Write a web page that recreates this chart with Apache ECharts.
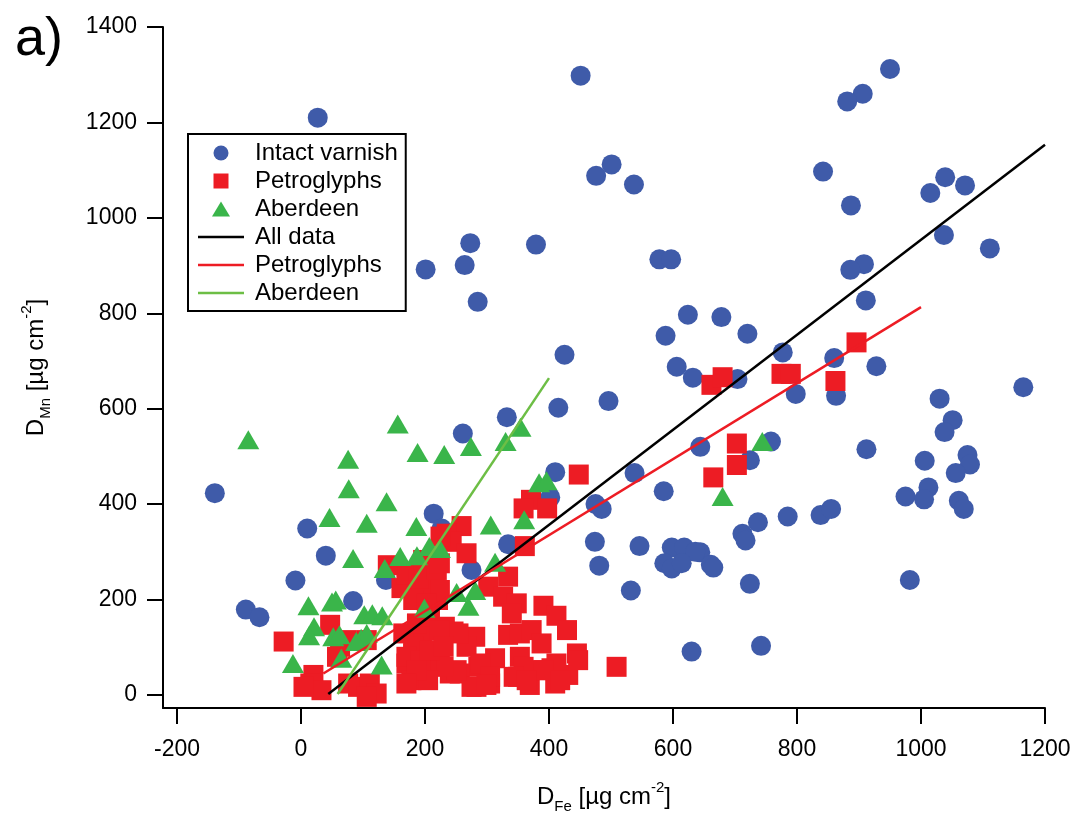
<!DOCTYPE html>
<html>
<head>
<meta charset="utf-8">
<script src="https://cdn.jsdelivr.net/npm/echarts@6/dist/echarts.min.js"></script>
<style>
  html, body { margin: 0; padding: 0; background: #fff; }
  #chart { width: 1087px; height: 817px; }
</style>
</head>
<body>
<div id="chart"></div>
<script>
// Intact varnish (blue circles)
const varnishFe = [451, 950, 906, 881, 501, 476, 537, 842, 1039, 1015, 1071, 887, 1037, 1111, 578, 597, 908, 886, 911, 624,
  678, 273, 379, 201, 264, 285, 588, 606, 632, 425, 415, 496, 332, 720, 777, 704, 860, 798, 863, 644,
  758, 724, 538, 585, 928, 1165, 1030, 1051, 1038, 912, 1006, 1075, 1079, 1056, 975, 1012, 1005, 1061, 1069, 785,
  838, 855, 737, 712, 717, 644, 661, 665, 724, 982, 261, 410, 402, 475, 485, 214, 227, 474, 546, 334,
  598, 618, 636, 586, 598, 614, 481, 275, 532, 630, 742, 27, -139, 10, 40, -9, -89, -67, 84, 137];
const varnishMn = [1298, 1312, 1260, 1244, 1112, 1088, 1070, 1097, 1085, 1052, 1068, 1026, 964, 936, 913, 913, 903, 891, 827, 797,
  792, 947, 944, 892, 901, 824, 753, 688, 665, 713, 602, 616, 582, 757, 718, 662, 706, 631, 627, 520,
  531, 492, 465, 427, 689, 645, 621, 576, 551, 515, 491, 503, 483, 465, 416, 435, 410, 407, 390, 374,
  377, 390, 362, 338, 324, 299, 273, 267, 233, 241, 548, 467, 414, 400, 390, 380, 349, 321, 312, 316,
  309, 309, 300, 276, 265, 276, 271, 262, 219, 91, 103, 1210, 423, 349, 292, 240, 179, 163, 197, 241];

// Petroglyphs (red squares)
const petroFe = [662, 680, 775, 790, 862, 896, 703, 703, 665, 448, 371, 359, 397, 361, 259, 235, 243, 267, 213, 216,
  224, 221, 192, 334, 302, 326, 348, 340, 391, 412, 429, 334, 353, 372, 388, 445, 509, 281, 246, 232,
  313, 286, 256, 283, 305, 353, 350, 369, 383, 404, 410, 431, 447, 224, 240, 267, 254, 213, 195, 412,
  391, 418, 359, 343, 364, 289, 305, 275, 299, 251, 230, 203, 181, 170, 178, 205, -28, 47, 74, 63,
  106, 58, 20, 15, 33, 4, 76, 92, 111, 122, 106, 162, 170, 189, 197, 219, 181, 203, 187, 208,
  165, 181, 170, 192, 208, 187, 170, 224, 230, 224, 225, 140];
const petroMn = [650, 666, 673, 673, 658, 739, 527, 482, 456, 462, 409, 391, 391, 312, 354, 338, 321, 297, 283, 258,
  220, 199, 231, 248, 227, 206, 192, 171, 187, 166, 136, 126, 129, 136, 108, 87, 59, 122, 133, 143,
  77, 59, 45, 17, 24, 80, 38, 21, 52, 56, 24, 42, 73, 66, 45, 101, 129, 136, 129, 66,
  52, 31, 59, 38, 31, 66, 38, 17, 21, 52, 59, 52, 87, 66, 31, 31, 112, 147, 115, 101,
  115, 80, 42, 24, 10, 17, 24, 17, 24, 3, -4, 224, 252, 244, 283, 262, 199, 192, 150, 164,
  129, 101, 80, 73, 94, 52, 24, 136, 101, 276, 332, 272];

// Aberdeen (green triangles)
const aberFe = [-85, 156, 76, 188, 231, 77, 138, 46, 106, 186, 84, 135, 160, 187, 207, 224, 12, 50, 56, 102,
  115, 131, 21, 13, 52, 62, 97, 106, -13, 65, 130, 199, 274, 330, 354, 306, 360, 384, 396, 313,
  251, 281, 270, 744, 680, 89];
const aberMn = [535, 568, 494, 508, 504, 432, 405, 372, 360, 353, 286, 265, 290, 292, 311, 307, 187, 195, 199, 168,
  170, 166, 143, 124, 122, 126, 119, 129, 66, 77, 63, 182, 521, 531, 561, 356, 367, 445, 449, 278,
  215, 219, 186, 531, 416, 112];

// fitted lines: end points
const fitAllFe = [44, 1200];
const fitAllMn = [2, 1153];
const fitPetroFe = [36, 1000];
const fitPetroMn = [45, 813];
const fitAberFe = [59, 400];
const fitAberMn = [2, 664];

const xTicks = [-200, 0, 200, 400, 600, 800, 1000, 1200];
const yTicks = [0, 200, 400, 600, 800, 1000, 1200, 1400];

const zip = (a, b) => a.map((v, i) => [v, b[i]]);
const FONT = 'Liberation Sans, Arial, Helvetica, sans-serif';
const linePath = 'path://M0,0H46V2.5H0Z';
const squarePath = 'path://M0,0H15V15H0Z';
const trianglePath = 'path://M9,0L18,15H0Z';

const nameRich = {
  m: { fontSize: 24, lineHeight: 34, fontFamily: FONT, color: '#000' },
  s: { fontSize: 15, lineHeight: 15, verticalAlign: 'bottom', fontFamily: FONT, color: '#000' },
  p: { fontSize: 15, lineHeight: 15, verticalAlign: 'top', fontFamily: FONT, color: '#000' }
};

const axisCommon = {
  type: 'value',
  nameLocation: 'middle',
  nameMoveOverlap: false,
  splitLine: { show: false },
  axisLine: { show: true, onZero: false, lineStyle: { color: '#000', width: 2 } },
  axisTick: { show: true, length: 16, lineStyle: { color: '#000', width: 2 } },
  axisLabel: { color: '#000', fontSize: 23, fontFamily: FONT, formatter: v => String(v) }
};

const chart = echarts.init(document.getElementById('chart'));
chart.setOption({
  animation: false,
  backgroundColor: '#fff',
  title: {
    text: 'a)',
    left: 10,
    top: 8,
    textStyle: { fontSize: 54, fontWeight: 'normal', color: '#000', fontFamily: FONT }
  },
  grid: { left: 163, right: 42, top: 27, bottom: 109, containLabel: false, outerBoundsMode: 'none' },
  xAxis: Object.assign({}, axisCommon, {
    min: -222.6,
    max: 1200,
    name: '{m|D}{s|Fe}{m| [µg cm}{p|-2}{m|]}',
    nameGap: 72,
    nameTextStyle: { rich: nameRich },
    axisTick: Object.assign({}, axisCommon.axisTick, { customValues: xTicks }),
    axisLabel: Object.assign({}, axisCommon.axisLabel, { customValues: xTicks, margin: 30 })
  }),
  yAxis: Object.assign({}, axisCommon, {
    min: -27.3,
    max: 1400,
    name: '{m|D}{s|Mn}{m| [µg cm}{p|-2}{m|]}',
    nameRotate: 90,
    nameGap: 110,
    nameTextStyle: { rich: nameRich },
    axisTick: Object.assign({}, axisCommon.axisTick, { customValues: yTicks }),
    axisLabel: Object.assign({}, axisCommon.axisLabel, { customValues: yTicks, margin: 26 })
  }),
  legend: {
    orient: 'vertical',
    left: 188,
    top: 134,
    padding: [7, 8, 6, 10],
    borderColor: '#000',
    borderWidth: 2,
    backgroundColor: '#fff',
    itemWidth: 46,
    itemHeight: 15,
    itemGap: 4,
    itemStyle: { borderWidth: 0 },
    selectedMode: false,
    formatter: name => name.replace(' fit', ''),
    textStyle: { fontSize: 24, lineHeight: 24, color: '#000', fontFamily: FONT, padding: [0, 0, 0, 6] },
    data: [
      { name: 'Intact varnish', icon: 'circle' },
      { name: 'Petroglyphs', icon: squarePath },
      { name: 'Aberdeen', icon: trianglePath },
      { name: 'All data', icon: linePath },
      { name: 'Petroglyphs fit', icon: linePath },
      { name: 'Aberdeen fit', icon: linePath }
    ]
  },
  series: [
    {
      name: 'Intact varnish',
      type: 'scatter',
      symbol: 'circle',
      symbolSize: 20,
      itemStyle: { color: '#3F5BA9', opacity: 1 },
      data: zip(varnishFe, varnishMn)
    },
    {
      name: 'Petroglyphs',
      type: 'scatter',
      symbol: 'rect',
      symbolSize: 20,
      itemStyle: { color: '#ED1C24', opacity: 1 },
      data: zip(petroFe, petroMn)
    },
    {
      name: 'Aberdeen',
      type: 'scatter',
      symbol: 'triangle',
      symbolSize: [22, 19],
      itemStyle: { color: '#3AB54A', opacity: 1 },
      data: zip(aberFe, aberMn)
    },
    {
      name: 'All data',
      type: 'line',
      symbol: 'none',
      itemStyle: { color: '#000' },
      lineStyle: { color: '#000', width: 2.5 },
      data: zip(fitAllFe, fitAllMn),
      z: 5
    },
    {
      name: 'Petroglyphs fit',
      type: 'line',
      symbol: 'none',
      itemStyle: { color: '#ED1C24' },
      lineStyle: { color: '#ED1C24', width: 2.5 },
      data: zip(fitPetroFe, fitPetroMn),
      z: 5
    },
    {
      name: 'Aberdeen fit',
      type: 'line',
      symbol: 'none',
      itemStyle: { color: '#6DBE45' },
      lineStyle: { color: '#6DBE45', width: 2.5 },
      data: zip(fitAberFe, fitAberMn),
      z: 5
    }
  ]
});
</script>
</body>
</html>
